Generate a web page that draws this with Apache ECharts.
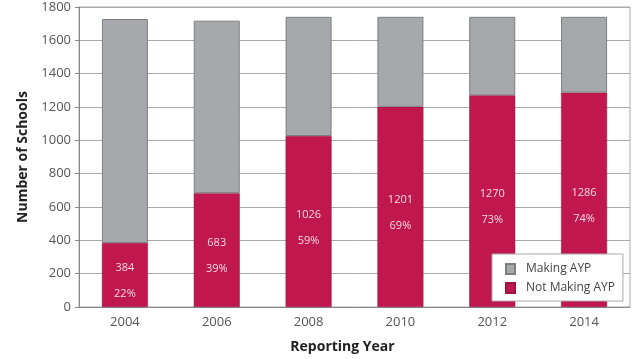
<!DOCTYPE html>
<html>
<head>
<meta charset="utf-8">
<script src="https://cdn.jsdelivr.net/npm/echarts@6/dist/echarts.min.js"></script>
<style>html,body{margin:0;padding:0;background:#fff}#c{width:634px;height:359px}</style>
</head>
<body>
<div id="c"></div>
<script>
const years = ['2004', '2006', '2008', '2010', '2012', '2014'];
const notMaking = [384, 683, 1026, 1201, 1270, 1286];
const making = [1344, 1035, 715, 540, 471, 455];
const notMakingPct = ['22%', '39%', '59%', '69%', '73%', '74%'];
const yTicks = { min: 0, max: 1800, interval: 200 };

const chart = echarts.init(document.getElementById('c'));
const font = '"Open Sans", "DejaVu Sans", sans-serif';
chart.setOption({
  animation: false,
  grid: { left: 79, right: 4, top: 7, bottom: 46, show: true, borderColor: '#aaa', borderWidth: 1, backgroundColor: 'transparent' },
  legend: {
    orient: 'vertical',
    left: 492, top: 254,
    data: ['Making AYP', 'Not Making AYP'],
    icon: 'rect',
    itemWidth: 9, itemHeight: 10, itemGap: 7,
    padding: [9, 8, 7, 13],
    backgroundColor: '#fff',
    borderColor: '#aaa', borderWidth: 1,
    textStyle: { fontFamily: font, fontSize: 12, color: '#444', padding: [0, 0, 0, 6] }
  },
  xAxis: {
    type: 'category',
    data: years,
    name: 'Reporting Year',
    nameLocation: 'middle',
    nameGap: 33,
    nameTextStyle: { fontFamily: font, fontSize: 14, fontWeight: 'bold', color: '#222', padding: [0, 24, 0, 0] },
    axisLine: { lineStyle: { color: '#888' } },
    axisTick: { show: false },
    axisLabel: { fontFamily: font, fontSize: 13, color: '#555', margin: 9 }
  },
  yAxis: {
    type: 'value',
    min: yTicks.min, max: yTicks.max, interval: yTicks.interval,
    name: 'Number of Schools',
    nameLocation: 'middle',
    nameGap: 46,
    nameTextStyle: { fontFamily: font, fontSize: 14, fontWeight: 'bold', color: '#222' },
    axisLine: { show: true, lineStyle: { color: '#888' } },
    axisTick: { show: true, length: 4, lineStyle: { color: '#888' } },
    axisLabel: { fontFamily: font, fontSize: 13, color: '#555', margin: 8, formatter: v => String(v) },
    splitLine: { lineStyle: { color: '#aaa' } }
  },
  series: [
    {
      name: 'Not Making AYP',
      type: 'bar',
      stack: 'total',
      barWidth: 46,
      data: notMaking,
      itemStyle: { color: '#C0174F', borderColor: '#9e1442', borderWidth: 0.5 },
      label: {
        show: true,
        position: 'inside',
        formatter: p => p.value + '\n' + notMakingPct[p.dataIndex],
        fontFamily: font,
        fontSize: 11,
        lineHeight: 26,
        color: '#f6d8e3',
        offset: [0, 6]
      }
    },
    {
      name: 'Making AYP',
      type: 'bar',
      stack: 'total',
      barWidth: 46,
      data: making,
      itemStyle: { color: '#A6A8AB', borderColor: '#7c7e80', borderWidth: 1 }
    }
  ]
});
</script>
</body>
</html>
